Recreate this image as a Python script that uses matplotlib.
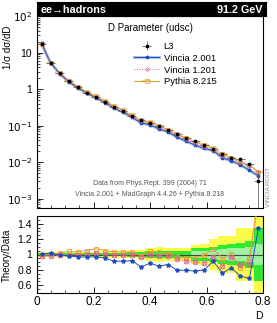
import numpy as np
import matplotlib.pyplot as plt
from matplotlib.ticker import FixedLocator, MultipleLocator, LogLocator, NullFormatter

plt.rcParams['font.family'] = ['Liberation Sans', 'DejaVu Sans']

# bins of D (width 0.032)
bin_width = 0.032
d_centers = [0.016, 0.048, 0.080, 0.112, 0.144, 0.176, 0.208, 0.240, 0.272,
             0.304, 0.336, 0.368, 0.400, 0.432, 0.464, 0.496, 0.528, 0.560,
             0.592, 0.624, 0.656, 0.688, 0.720, 0.752, 0.784]

# L3 data 1/sigma dsigma/dD
l3 = [17.6, 5.15, 2.69, 1.63, 1.12, 0.80, 0.60, 0.45, 0.334, 0.257, 0.185,
      0.142, 0.119, 0.0957, 0.0778, 0.0607, 0.0472, 0.0374, 0.0297, 0.0227,
      0.0173, 0.0132, 0.0119, 0.0087, 0.00313]
l3_relerr = [0.02, 0.02, 0.02, 0.02, 0.02, 0.02, 0.02, 0.02, 0.025, 0.025, 0.03,
             0.03, 0.04, 0.05, 0.045, 0.045, 0.05, 0.07, 0.08, 0.1, 0.12, 0.13,
             0.15, 0.18, 0.85]

# ratios Theory/Data
r_vincia2 = [1.01, 1.015, 0.99, 0.98, 0.97, 0.965, 0.97, 0.955, 0.913, 0.913,
             0.92, 0.84, 0.885, 0.85, 0.87, 0.795, 0.795, 0.785, 0.80, 0.913,
             0.76, 0.825, 0.72, 0.69, 1.35]
r_vincia1 = [0.98, 0.98, 0.99, 1.0, 1.0, 1.005, 1.015, 1.005, 0.99, 0.99, 0.99,
             0.965, 0.99, 0.985, 0.975, 0.945, 0.915, 0.90, 0.895, 0.965, 0.85,
             0.965, 0.87, 0.88, 1.7]
r_pythia = [0.98, 1.005, 1.02, 1.04, 1.035, 1.05, 1.075, 1.05, 1.035, 1.035,
            1.035, 0.98, 1.04, 1.035, 1.01, 0.965, 0.96, 0.955, 0.99, 1.075,
            0.948, 1.01, 0.825, 0.955, 1.75]

# uncertainty bands on the ratio (half widths)
band_yellow = [0.03, 0.03, 0.03, 0.03, 0.035, 0.035, 0.035, 0.04, 0.04, 0.05,
               0.05, 0.06, 0.08, 0.1, 0.09, 0.09, 0.09, 0.12, 0.13, 0.2, 0.24,
               0.24, 0.34, 0.34, 0.6]
band_green = [0.015, 0.015, 0.015, 0.015, 0.02, 0.02, 0.02, 0.02, 0.025, 0.025,
              0.03, 0.03, 0.04, 0.05, 0.045, 0.045, 0.05, 0.08, 0.09, 0.1, 0.12,
              0.13, 0.15, 0.18, 0.35]
band_pale = [0, 0, 0, 0, 0, 0, 0, 0, 0, 0, 0, 0, 0, 0, 0, 0, 0, 0.05, 0.05,
             0.06, 0.07, 0.08, 0.08, 0.1, 0.13]

main_ticks = [1e-3, 1e-2, 1e-1, 1, 10, 100]
main_ticklabels = ['$10^{-3}$', '$10^{-2}$', '$10^{-1}$', '1', '10', '$10^{2}$']
ratio_ticks = [0.6, 0.8, 1.0, 1.2, 1.4]
ratio_ticklabels = ['0.6', '0.8', '1', '1.2', '1.4']
x_ticks = [0, 0.2, 0.4, 0.6, 0.8]
x_ticklabels = ['0', '0.2', '0.4', '0.6', '0.8']

x = np.array(d_centers)
data = np.array(l3)
mc_v2 = data * np.array(r_vincia2)
mc_v1 = data * np.array(r_vincia1)
mc_py = data * np.array(r_pythia)

blue = '#1f4fbf'
lblue = '#a8c4ec'
pink = '#e06090'
orange = '#e0a030'
lorange = '#f4cf90'

W, H = 277, 323
fig = plt.figure(figsize=(W / 100, H / 100), dpi=100)
L, R = 37, 263
ax = fig.add_axes([L / W, 1 - 208 / H, (R - L) / W, (208 - 16) / H])
axr = fig.add_axes([L / W, 1 - 293 / H, (R - L) / W, (293 - 216) / H])
axh = fig.add_axes([L / W, 1 - 16 / H, (266 - L) / W, 14 / H])

# header
axh.set_facecolor('black')
axh.set_xticks([])
axh.set_yticks([])
axh.text(0.015, 0.45, 'ee\u2192hadrons', color='white', fontsize=7.8,
         fontweight='bold', va='center', ha='left', transform=axh.transAxes)
axh.text(0.985, 0.45, '91.2 GeV', color='white', fontsize=7.8,
         fontweight='bold', va='center', ha='right', transform=axh.transAxes)

# main panel
ax.plot(x, mc_v2, color=lblue, lw=2.2, zorder=2)
ax.plot(x, mc_v2, color=blue, lw=0.7, marker='*', ms=2.5, zorder=3, label='Vincia 2.001')
ax.plot(x, mc_v1, color=pink, lw=0.7, ls=':', marker='D', ms=2, mfc='none',
        mew=0.5, zorder=4, label='Vincia 1.201')
ax.errorbar(x, mc_py, xerr=bin_width / 2, color=orange, lw=0.7, marker='s', ms=2.5,
            mfc='none', mew=0.5, elinewidth=1.6, ecolor=lorange, zorder=2.5,
            label='Pythia 8.215')
ax.errorbar(x, data, xerr=bin_width / 2, yerr=data * np.array(l3_relerr),
            fmt='s', color='black', ms=2, ecolor='#666666', elinewidth=0.6,
            zorder=5, label='L3')

ax.set_yscale('log')
ax.set_xlim(0, 0.8)
ax.set_ylim(5.6e-4, 100)
ax.yaxis.set_major_locator(FixedLocator(main_ticks))
ax.set_yticklabels(main_ticklabels)
ax.yaxis.set_minor_locator(LogLocator(base=10, subs=np.arange(2, 10)))
ax.yaxis.set_minor_formatter(NullFormatter())
ax.xaxis.set_major_locator(MultipleLocator(0.2))
ax.xaxis.set_minor_locator(MultipleLocator(0.05))
ax.tick_params(axis='both', which='both', direction='in', labelsize=7.5)
ax.tick_params(which='major', length=4, width=0.6)
ax.tick_params(which='minor', length=2, width=0.5)
ax.tick_params(axis='x', labelbottom=False)
for s in ax.spines.values():
    s.set_linewidth(0.8)
fig.text(8 / W, 1 - 26 / H, '1/\u03c3 d\u03c3/dD', rotation=90, fontsize=7,
         ha='center', va='top')

ax.text(0.5, 0.935, 'D Parameter (udsc)', fontsize=7, ha='center', va='center',
        transform=ax.transAxes)
h, lab = ax.get_legend_handles_labels()
h_v2 = (plt.Line2D([], [], color=lblue, lw=2.2), h[0])
ax.legend([h[3], h_v2, h[1], h[2]], [lab[3], lab[0], lab[1], lab[2]],
          loc='upper left', bbox_to_anchor=(0.41, 0.89), frameon=False,
          fontsize=6.8, handlelength=2.6, labelspacing=0.3, handletextpad=0.5,
          borderpad=0, numpoints=1)
ax.text(0.5, 0.13, 'Data from Phys.Rept. 399 (2004) 71', fontsize=5, color='#555555',
        ha='center', va='center', transform=ax.transAxes)
ax.text(0.5, 0.068, 'Vincia 2.001 + MadGraph 4.4.26 + Pythia 8.218', fontsize=5,
        color='#555555', ha='center', va='center', transform=ax.transAxes)
fig.text(268 / W, 1 - 187 / H, 'VINCIA ROOT', rotation=90, fontsize=4.5,
         color='#888888', ha='center', va='center')

# ratio panel
axr.bar(x, 2 * np.array(band_yellow), bottom=1 - np.array(band_yellow),
        width=bin_width, color='#fbfb4a', lw=0, zorder=1)
axr.bar(x, 2 * np.array(band_green), bottom=1 - np.array(band_green),
        width=bin_width, color='#2fe82f', lw=0, zorder=1.1)
axr.bar(x, 2 * np.array(band_pale), bottom=1 - np.array(band_pale),
        width=bin_width, color='#9ff09f', lw=0, zorder=1.2)
axr.axhline(1, color='#444444', lw=0.8, zorder=2)
axr.plot(x, r_vincia2, color=blue, lw=0.7, marker='*', ms=3, zorder=5)
axr.plot(x, r_vincia1, color=pink, lw=0.8, ls=':', marker='o', ms=3.5,
         mfc='none', mew=0.6, zorder=4)
axr.plot(x, r_vincia1, ls='none', marker='x', ms=2.5, color=pink, mew=0.6, zorder=4)
axr.plot(x, r_pythia, color=orange, lw=0.7, marker='s', ms=3.5, mfc='none',
         mew=0.6, zorder=3)
axr.set_xlim(0, 0.8)
axr.set_ylim(0.5, 1.5)
axr.yaxis.set_major_locator(FixedLocator(ratio_ticks))
axr.set_yticklabels(ratio_ticklabels)
axr.yaxis.set_minor_locator(MultipleLocator(0.05))
axr.xaxis.set_major_locator(FixedLocator(x_ticks))
axr.set_xticklabels(x_ticklabels)
axr.xaxis.set_minor_locator(MultipleLocator(0.05))
axr.tick_params(axis='both', which='both', direction='in', labelsize=7.5)
axr.tick_params(axis='x', labelsize=8.5, pad=2)
axr.tick_params(which='major', length=4, width=0.6)
axr.tick_params(which='minor', length=2, width=0.5)
axr.set_xlabel('D', fontsize=7.5, labelpad=0)
axr.xaxis.set_label_coords(0.98, -0.24)
for s in axr.spines.values():
    s.set_linewidth(0.8)
fig.text(7 / W, 1 - 255 / H, 'Theory/Data', rotation=90, fontsize=7,
         ha='center', va='center')

fig.savefig('out.png', dpi=100)
